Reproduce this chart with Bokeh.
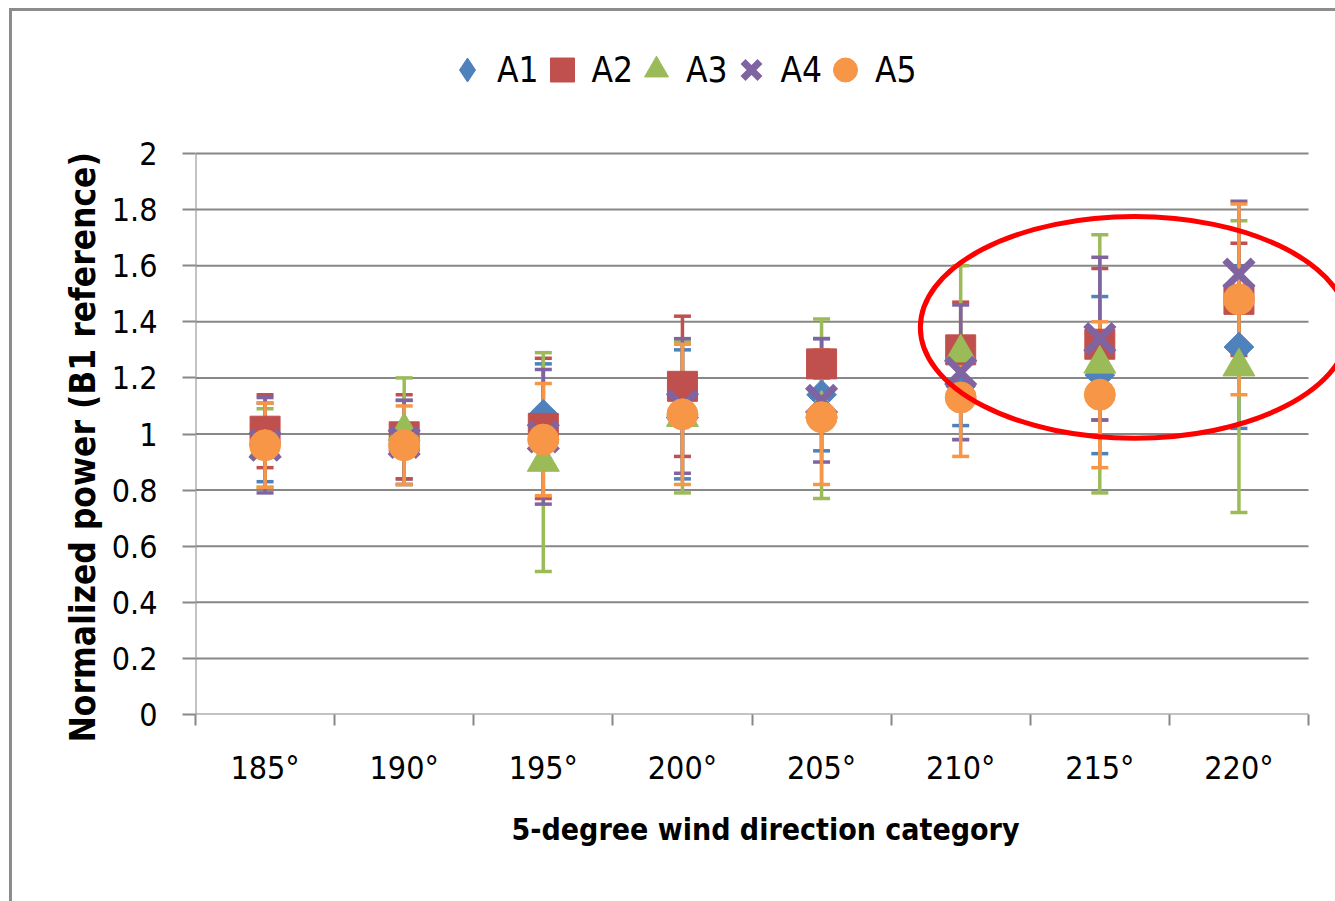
import math
from bokeh.plotting import figure
from bokeh.models import (ColumnDataSource, Whisker, TeeHead, Legend, LegendItem,
                          FixedTicker, NumeralTickFormatter, Range1d, Title)
from bokeh.embed import file_html
from bokeh.resources import INLINE

# ---------------- data ----------------
categories = ["185°", "190°", "195°", "200°", "205°", "210°", "215°", "220°"]
series_names = ["A1", "A2", "A3", "A4", "A5"]

A1 = [0.97, 0.98, 1.07, 1.07, 1.14, 1.17, 1.21, 1.31]
A1_err = [0.14, 0.14, 0.18, 0.23, 0.20, 0.14, 0.28, 0.29]
A2 = [1.01, 0.99, 1.02, 1.17, 1.25, 1.30, 1.32, 1.48]
A2_err = [0.13, 0.15, 0.25, 0.25, 0.05, 0.17, 0.27, 0.20]
A3 = [0.95, 1.01, 0.90, 1.06, 1.09, 1.29, 1.25, 1.24]
A3_err = [0.14, 0.19, 0.39, 0.27, 0.32, 0.31, 0.46, 0.52]
A4 = [0.96, 0.97, 0.99, 1.10, 1.12, 1.22, 1.34, 1.57]
A4_err = [0.17, 0.15, 0.24, 0.24, 0.22, 0.24, 0.29, 0.26]
A5 = [0.96, 0.96, 0.98, 1.07, 1.06, 1.13, 1.14, 1.48]
A5_err = [0.15, 0.14, 0.20, 0.25, 0.24, 0.21, 0.26, 0.34]

y_ticks = [0, 0.2, 0.4, 0.6, 0.8, 1, 1.2, 1.4, 1.6, 1.8, 2]

values = [A1, A2, A3, A4, A5]
errors = [A1_err, A2_err, A3_err, A4_err, A5_err]

# ---------------- style ----------------
FONT = "DejaVu Sans Condensed, Lato, sans-serif"
GRID = "#878787"
colors = ["#4F81BD", "#C0504D", "#9BBB59", "#8064A2", "#F79646"]

W, H = 1335, 901
ML, MR, MT, MB = 195, 0, 0, 187
PLOT_TOP_PX = 153          # pixel row of the y = 2 line
n = len(categories)
x_pos = [i + 0.5 for i in range(n)]
boundaries = list(range(n + 1))
frame_w = W - ML - MR
frame_h = H - MT - MB
x_end = n * frame_w / 1113.0
y_max = y_ticks[-1]
y_end = y_max * frame_h / (frame_h - (PLOT_TOP_PX - MT))

p = figure(width=W, height=H, x_range=Range1d(0, x_end), y_range=Range1d(0, y_end),
           output_backend="svg", toolbar_location=None,
           min_border_left=ML, min_border_right=MR, min_border_top=MT, min_border_bottom=MB)
p.outline_line_color = None
p.xgrid.visible = False
p.ygrid.visible = False
p.border_fill_color = None
p.background_fill_color = None
p.styles = {"box-shadow": "inset 9px 8px 0 0 #ffffff, inset 12px 11px 0 0 #8c8c8c"}

# gridlines limited to the category span, and the value-axis line
p.segment(x0=[0] * len(y_ticks), y0=y_ticks, x1=[n] * len(y_ticks), y1=y_ticks,
          line_color=GRID, line_width=2, level="image")
p.segment(x0=[0], y0=[y_ticks[0]], x1=[0], y1=[y_max],
          line_color=GRID, line_width=2, level="image")

# error bars
for vals, errs, col in zip(values, errors, colors):
    src = ColumnDataSource(dict(x=x_pos,
                                upper=[v + e for v, e in zip(vals, errs)],
                                lower=[v - e for v, e in zip(vals, errs)]))
    w = Whisker(base="x", upper="upper", lower="lower", source=src, dimension="height",
                line_color=col, line_width=3.5,
                upper_head=TeeHead(size=17, line_color=col, line_width=3.5),
                lower_head=TeeHead(size=17, line_color=col, line_width=3.5))
    p.add_layout(w)

# markers
r1 = p.scatter(x_pos, A1, marker="square", angle=math.pi / 4, size=21,
               fill_color=colors[0], line_color=colors[0])
r2 = p.scatter(x_pos, A2, marker="square", size=30, fill_color=colors[1], line_color=colors[1])
r3 = p.scatter(x_pos, A3, marker="triangle", size=32, fill_color=colors[2], line_color=colors[2])
r4 = p.scatter(x_pos, A4, marker="x", size=40, line_color=colors[3], line_width=7)
r5 = p.scatter(x_pos, A5, marker="circle", size=31, fill_color=colors[4], line_color=colors[4])
# legend-only glyph for the A1 diamond (no data point drawn)
r1_leg = p.scatter([float("nan")], [float("nan")], marker="diamond", size=26,
                   fill_color=colors[0], line_color=colors[0])

# highlight ellipse around the last three categories
hl_x = x_pos[categories.index("215°")] + 0.25
p.ellipse(x=[hl_x], y=[1.38], width=3.08, height=0.79, fill_color=None,
          line_color="#FF0000", line_width=5, level="overlay")

# axes
xa = p.xaxis[0]
xa.ticker = FixedTicker(ticks=x_pos, minor_ticks=boundaries)
xa.major_label_overrides = {x: c for x, c in zip(x_pos, categories)}
xa.axis_line_color = None
xa.major_tick_line_color = None
xa.major_tick_out = 0
xa.major_tick_in = 0
xa.minor_tick_line_color = GRID
xa.minor_tick_line_width = 2
xa.minor_tick_out = 11
xa.minor_tick_in = 0
xa.major_label_text_font = FONT
xa.major_label_text_font_size = "32px"
xa.major_label_text_color = "black"
xa.major_label_standoff = 23
xa.axis_label = "5-degree wind direction category"
xa.axis_label_text_font = FONT
xa.axis_label_text_font_size = "30px"
xa.axis_label_text_font_style = "bold"
xa.axis_label_text_color = "black"
xa.axis_label_standoff = 22

ya = p.yaxis[0]
ya.ticker = FixedTicker(ticks=y_ticks, minor_ticks=[])
ya.formatter = NumeralTickFormatter(format="0.[0]")
ya.axis_line_color = None
ya.major_tick_line_color = GRID
ya.major_tick_line_width = 2
ya.major_tick_out = 13
ya.major_tick_in = 0
ya.minor_tick_line_color = None
ya.major_label_text_font = FONT
ya.major_label_text_font_size = "32px"
ya.major_label_text_color = "black"
ya.major_label_standoff = 25

# value-axis title, anchored near the bottom of the plot like the reference
ytitle = Title(text="Normalized power (B1 reference)", align="left", vertical_align="middle",
               offset=-28, standoff=10, text_font=FONT, text_font_size="35px",
               text_font_style="bold", text_color="black")
p.add_layout(ytitle, "left")

# legend: one entry per series, laid out in a row above the plot
leg_renderers = [r1_leg, r2, r3, r4, r5]
LEG_X0, LEG_STEP, LEG_Y = 242, 94.5, 612
for i, (name, rr) in enumerate(zip(series_names, leg_renderers)):
    lg = Legend(items=[LegendItem(label=name, renderers=[rr])],
                location=(LEG_X0 + i * LEG_STEP, LEG_Y),
                glyph_width=60, glyph_height=65, label_standoff=0, spacing=0,
                padding=0, margin=0, border_line_color=None, background_fill_alpha=0,
                label_text_font=FONT, label_text_font_size="35px", label_text_color="black")
    p.add_layout(lg, "center")

open("out.html", "w").write(file_html(p, INLINE, title="chart"))
